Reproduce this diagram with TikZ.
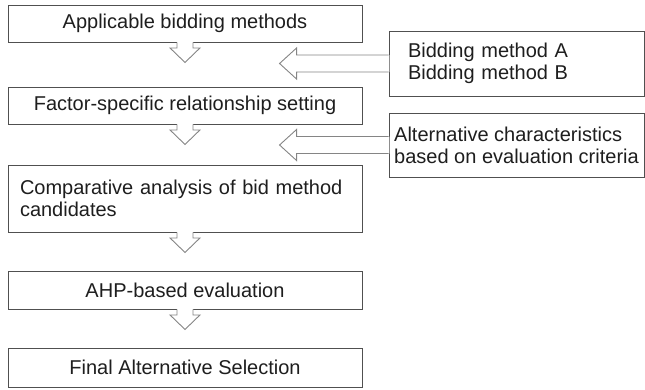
\documentclass[tikz,border=0pt]{standalone}
\usepackage{fontspec}
\setmainfont{Liberation Sans}
\usetikzlibrary{calc}
\definecolor{boxline}{HTML}{505050}
\definecolor{arrline}{HTML}{858585}
\definecolor{txt}{HTML}{1E1E1E}
\tikzset{
  box/.style={draw=boxline, line width=0.9pt, fill=white, inner sep=0pt, text=txt,
    font=\fontsize{20}{22.5}\selectfont, minimum width=354pt},
  sidebox/.style={draw=boxline, line width=0.9pt, fill=white, inner ysep=0pt, text=txt,
    font=\fontsize{20}{22}\selectfont, align=left},
  arrl/.style={draw=arrline, line width=0.9pt, line join=miter}
}
\newcommand\dnarrow[1]{%
  \fill[white] ($(#1.south)+(-8,-0.7)$) -- ++(0,6.2) -- ++(-7,0) -- ++(15,14.5) -- ++(15,-14.5) -- ++(-7,0) -- ++(0,-6.2) -- cycle;
  \draw[arrl] ($(#1.south)+(-8,0)$) -- ++(0,5.5) -- ++(-7,0) -- ++(15,14.5) -- ++(15,-14.5) -- ++(-7,0) -- ++(0,-5.5);}
\newcommand\lfarrow[1]{%
  \fill[white] ($(#1.west)+(0.7,-8.5)$) -- ++(-92.7,0) -- ++(0,-7) -- ++(-17,15.5) -- ++(17,15.5) -- ++(0,-7) -- ++(92.7,0) -- cycle;
  \draw[arrl] ($(#1.west)+(0,-8.5)$) -- ++(-92,0) -- ++(0,-7) -- ++(-17,15.5) -- ++(17,15.5) -- ++(0,-7) -- ++(92,0);}
\begin{document}
\begin{tikzpicture}[x=1pt,y=-1pt]
\useasboundingbox (0,0) rectangle (645,389);
\node[box, minimum height=37pt] (b1) at (185,23.5) {Applicable bidding methods};
\node[box, minimum height=37pt] (b2) at (185,105.5) {Factor-specific relationship setting};
\node[box, minimum height=67pt, text width=330pt, inner xsep=12pt, align=left] (b3) at (185,198.5)
  {Comparative analysis of bid method\\candidates};
\node[box, minimum height=38pt] (b4) at (185,290) {AHP-based evaluation};
\node[box, minimum height=39pt] (b5) at (185,367.5) {Final Alternative Selection};
\node[sidebox, minimum height=65pt, text width=217pt, inner xsep=19pt] (bA) at (516.5,63.5)
  {Bidding method A\\Bidding method B};
\node[sidebox, minimum height=64pt, minimum width=255pt, inner xsep=0pt] (bC) at (516.5,145)
  {Alternative characteristics\\based on evaluation criteria};
\dnarrow{b1}
\dnarrow{b2}
\dnarrow{b3}
\dnarrow{b4}
\lfarrow{bA}
\lfarrow{bC}
\end{tikzpicture}
\end{document}
